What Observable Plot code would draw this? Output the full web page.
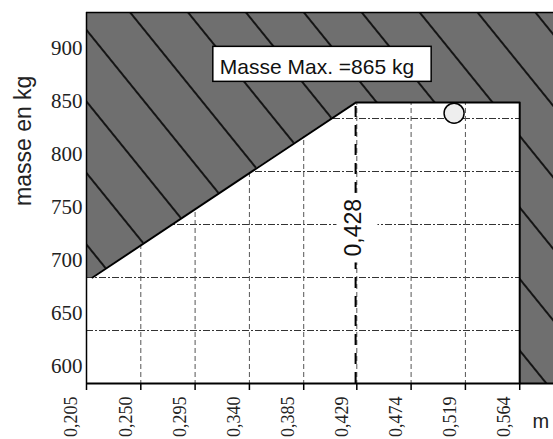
<!DOCTYPE html>
<html><head><meta charset="utf-8">
<script src="https://cdn.jsdelivr.net/npm/d3@7"></script>
<script src="https://cdn.jsdelivr.net/npm/@observablehq/plot@0.6"></script>
<style>body{margin:0;background:#fff}
svg text.serif-tick{font-family:"Liberation Serif","DejaVu Serif","Times New Roman",serif !important;}
</style>
</head><body><div id="chart"></div>
<script>
// ---- data ----
const xTicks = [0.205, 0.250, 0.295, 0.340, 0.385, 0.429, 0.474, 0.519, 0.564];
const yTicks = [600, 650, 700, 750, 800, 850, 900];
const xGrid = [0.250, 0.295, 0.340, 0.385, 0.429, 0.474, 0.519];
const yGrid = [650, 700, 750, 800, 850];
// envelope of allowed zone (lower edge of shaded region)
const envelopeX = [0.205, 0.210, 0.428, 0.564, 0.564, 0.592];
const envelopeY = [700, 700, 865, 865, 600, 600];
const xDomain = [0.205, 0.592];
const yDomain = [600, 950];
const massMax = 865;
const xLimit = 0.428;
const pointX = [0.5096];
const pointY = [855];
const noteText = ["Masse Max. =865 kg"];
const noteX = [0.396];
const noteY = [898];
const limitLabelY = [747];
const yLabel = ["masse en kg"];
const xLabel = ["m"];

const fmt = d => d3.format(".3f")(d).replace(".", ",");
const envelope = envelopeX.map((x, i) => ({x, y: envelopeY[i]}));
const boundary = envelope.slice(1, 5);
const point = pointX.map((x, i) => ({x, y: pointY[i]}));
const note = noteText.map((t, i) => ({t, x: noteX[i], y: noteY[i]}));
const limitLabel = limitLabelY.map(y => ({x: xLimit, y}));

const serif = "Liberation Serif";
const sans = "Liberation Sans";

const chart = Plot.plot({
  width: 553, height: 439,
  marginLeft: 86, marginRight: 0, marginTop: 12, marginBottom: 56,
  style: {background: "#fff"},
  x: {domain: xDomain, axis: null},
  y: {domain: yDomain, axis: null},
  marks: [
    Plot.ruleY(yGrid, {stroke: "#333", strokeWidth: 1, strokeDasharray: "7,2,2,2"}),
    Plot.ruleX(xGrid, {stroke: "#555", strokeWidth: 1, strokeDasharray: "5,3"}),
    Plot.areaY(envelope, {x: "x", y1: "y", y2: yDomain[1], fill: "url(#hatch)"}),
    Plot.line(boundary, {x: "x", y: "y", stroke: "#000", strokeWidth: 2}),
    Plot.ruleX([xLimit], {y1: yDomain[0], y2: massMax, stroke: "#000", strokeWidth: 2, strokeDasharray: "11,8"}),
    Plot.dot(point, {x: "x", y: "y", r: 10, fill: "#eeeeee", stroke: "#000", strokeWidth: 1.5}),
    Plot.ruleY([yDomain[1]], {stroke: "#000", strokeWidth: 1.5}),
    Plot.ruleX([xDomain[0]], {stroke: "#000", strokeWidth: 1.5}),
    Plot.ruleY([yDomain[0]], {stroke: "#000", strokeWidth: 2}),
    Plot.axisX({ticks: xTicks, tickSize: 7, tickFormat: () => "", strokeWidth: 1.5, label: null}),
    Plot.axisX({ticks: xTicks, tickSize: 0, tickPadding: 13, tickRotate: -90, tickFormat: fmt,
      fontSize: 18, fontFamily: serif, dx: -15, fill: "#222", label: null}),
    Plot.axisY({ticks: yTicks, tickSize: 0, tickPadding: 4, tickFormat: d => String(d),
      fontSize: 21, fontFamily: serif, dy: -17, fill: "#222", label: null}),
    Plot.text(yLabel, {frameAnchor: "left", rotate: -90, dx: -56, dy: 8, lineAnchor: "bottom",
      fontSize: 23, fontFamily: sans, fill: "#222"}),
    Plot.text(xLabel, {frameAnchor: "bottom-right", textAnchor: "start", dx: -21, dy: 44,
      lineAnchor: "bottom", fontSize: 20, fontFamily: sans, fill: "#222"}),
    Plot.text(note, {x: "x", y: "y", text: "t", fontSize: 21, fontFamily: sans, fill: "#111"}),
    Plot.text(limitLabel, {x: "x", y: "y", text: d => fmt(d.x), rotate: -90, dx: -1.5,
      fontSize: 23, fontFamily: sans, fill: "#111"})
  ]
});

document.getElementById("chart").append(chart);
const ns = "http://www.w3.org/2000/svg";
const defs = document.createElementNS(ns, "defs");
defs.innerHTML = `<pattern id="hatch" patternUnits="userSpaceOnUse" width="45" height="20" patternTransform="translate(3,0) rotate(-39)">
  <rect width="45" height="20" fill="#6f6f6f"/>
  <line x1="1" y1="0" x2="1" y2="20" stroke="#151515" stroke-width="2"/>
</pattern>`;
chart.insertBefore(defs, chart.firstChild);

// tick labels in a serif face, as in the scanned original
const tickLabels = new Set([...xTicks.map(fmt), ...yTicks.map(String)]);
chart.querySelectorAll("text").forEach(t => {
  if (tickLabels.has(t.textContent.trim())) {
    t.classList.add("serif-tick");
    t.setAttribute("font-family", serif);
  }
});
chart.querySelectorAll("g").forEach(g => {
  const a = g.getAttribute("aria-label") || "";
  if (a.includes("tick label")) g.setAttribute("font-family", serif);
});

function boxBehind(content, pad, fill, stroke) {
  chart.querySelectorAll("text").forEach(t => {
    if (t.textContent !== content) return;
    const b = t.getBBox();
    const r = document.createElementNS(ns, "rect");
    r.setAttribute("x", b.x - pad.l);
    r.setAttribute("y", b.y - pad.t);
    r.setAttribute("width", b.width + pad.l + pad.r);
    r.setAttribute("height", b.height + pad.t + pad.b);
    r.setAttribute("fill", fill);
    r.setAttribute("stroke", stroke);
    r.setAttribute("stroke-width", stroke === "none" ? 0 : 1.5);
    const tr = t.getAttribute("transform");
    if (tr) r.setAttribute("transform", tr);
    t.parentNode.insertBefore(r, t);
  });
}
boxBehind(noteText[0], {l: 7, r: 17, t: 9, b: 3}, "#fff", "#000");
boxBehind(fmt(xLimit), {l: 6, r: 6, t: 4, b: 11}, "#fff", "none");
</script>
</body></html>
